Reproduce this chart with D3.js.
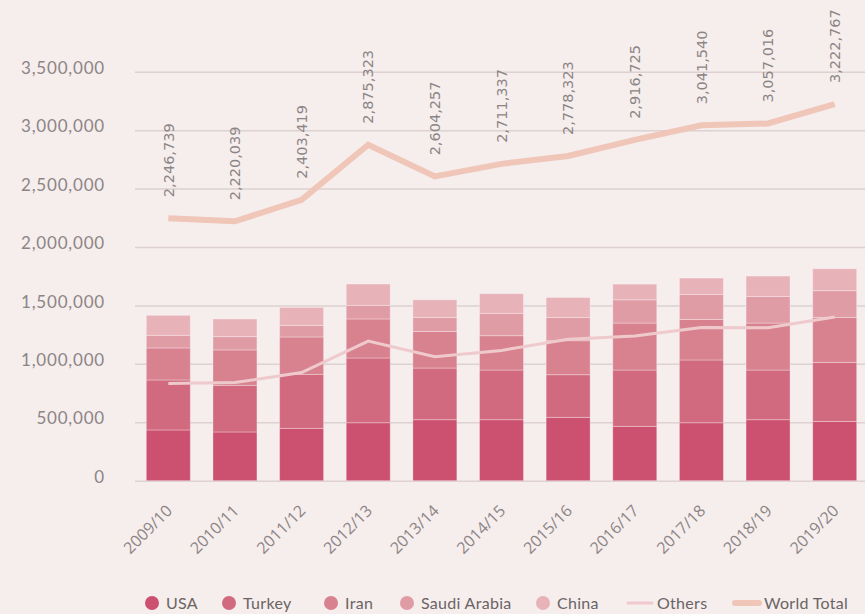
<!DOCTYPE html>
<html>
<head>
<meta charset="utf-8">
<script src="https://cdn.jsdelivr.net/npm/d3@7"></script>
<style>
  html, body { margin: 0; padding: 0; background: #f6eded; }
  svg { display: block; }
</style>
</head>
<body>
<div id="chart"></div>
<script>
(function() {

  'use strict'

  // data
  var years = ['2009/10', '2010/11', '2011/12', '2012/13', '2013/14', '2014/15',
    '2015/16', '2016/17', '2017/18', '2018/19', '2019/20'];
  var usa = [434000, 417000, 448000, 496000, 522000, 522000, 542000, 465000, 496000, 522000, 507000];
  var turkey = [428000, 399000, 462000, 554000, 442000, 425000, 365000, 482000, 537000, 425000, 505000];
  var iran = [274000, 303000, 320000, 334000, 313000, 294000, 291000, 402000, 347000, 402000, 385000];
  var saudiArabia = [108000, 114000, 99000, 116000, 120000, 191000, 199000, 199000, 214000, 228000, 229000];
  var china = [171000, 151000, 154000, 183000, 151000, 169000, 171000, 134000, 140000, 174000, 188000];
  var others = [832000, 840000, 925000, 1195000, 1060000, 1115000, 1210000, 1238000, 1310000, 1308000, 1400000];
  var worldTotal = [2246739, 2220039, 2403419, 2875323, 2604257, 2711337, 2778323, 2916725, 3041540, 3057016, 3222767];
  var yTicks = [0, 500000, 1000000, 1500000, 2000000, 2500000, 3000000, 3500000];

  var barKeys = ['USA', 'Turkey', 'Iran', 'Saudi Arabia', 'China'];
  var barSeries = [usa, turkey, iran, saudiArabia, china];
  var barColors = ['#cc506f', '#d16a7e', '#d8828f', '#e09ca5', '#e8b2b9'];

  var width = 865;
  var height = 614;
  var bg = '#f6eded';
  var grey = '#8c8585';

  var table = years.map(function(y, i) {
    var row = { year: y };
    barKeys.forEach(function(k, j) { row[k] = barSeries[j][i]; });
    return row;
  });

  var x = d3.scaleBand()
    .domain(years)
    .range([135, 868])
    .paddingInner(0.34)
    .paddingOuter(0.17);

  var y = d3.scaleLinear()
    .domain([0, 3500000])
    .range([480.7, 71.7]);

  var svg = d3.select('#chart').append('svg')
    .attr('width', width)
    .attr('height', height);

  svg.append('rect')
    .attr('width', width)
    .attr('height', height)
    .attr('fill', bg);

  // grid + y labels
  var yAxis = d3.axisLeft(y)
    .tickValues(yTicks)
    .tickSize(-(865 - 135))
    .tickPadding(30)
    .tickFormat(d3.format(','));

  var gy = svg.append('g')
    .attr('transform', 'translate(135,0)')
    .call(yAxis);
  gy.select('.domain').remove();
  gy.selectAll('.tick line')
    .attr('stroke', '#ddd1d1')
    .attr('stroke-width', 1.5);
  gy.selectAll('.tick text')
    .attr('fill', grey)
    .attr('font-family', 'Lato, sans-serif')
    .attr('font-size', '17px')
    .attr('letter-spacing', '0.8px')
    .attr('dy', '0.1em');

  // stacked bars
  var stack = d3.stack().keys(barKeys)(table);

  svg.append('g').selectAll('g')
    .data(stack)
    .enter().append('g')
    .attr('fill', function(d, i) { return barColors[i]; })
    .selectAll('rect')
    .data(function(d) { return d; })
    .enter().append('rect')
    .attr('x', function(d) { return x(d.data.year); })
    .attr('width', x.bandwidth())
    .attr('y', function(d) { return y(d[1]); })
    .attr('height', function(d) { return y(d[0]) - y(d[1]); })
    .attr('stroke', 'rgba(255,255,255,0.3)')
    .attr('stroke-width', 1);

  var cx = function(d, i) { return x(years[i]) + x.bandwidth() / 2; };

  // others line
  svg.append('path')
    .datum(others)
    .attr('fill', 'none')
    .attr('stroke', '#efcacd')
    .attr('stroke-width', 3)
    .attr('d', d3.line().x(cx).y(function(d) { return y(d); }));

  // world total line
  svg.append('path')
    .datum(worldTotal)
    .attr('fill', 'none')
    .attr('stroke', '#efc6b8')
    .attr('stroke-width', 6)
    .attr('d', d3.line().x(cx).y(function(d) { return y(d); }));

  svg.append('g').selectAll('text')
    .data(worldTotal)
    .enter().append('text')
    .attr('transform', function(d, i) {
      return 'translate(' + cx(d, i) + ',' + (y(d) - 21) + ') rotate(-90)';
    })
    .attr('dy', '0.36em')
    .attr('fill', grey)
    .attr('font-family', '"DejaVu Sans", sans-serif')
    .attr('font-size', '14.5px')
    .text(d3.format(','));

  // x labels
  var xAxis = d3.axisBottom(x).tickSize(0).tickPadding(0);
  var gx = svg.append('g')
    .attr('transform', 'translate(0,480.7)')
    .call(xAxis);
  gx.select('.domain').remove();
  gx.selectAll('.tick text')
    .attr('fill', grey)
    .attr('font-family', '"Open Sans", sans-serif')
    .attr('font-size', '16px')
    .attr('text-anchor', 'end')
    .attr('dy', null)
    .attr('y', null)
    .attr('transform', 'translate(5,31) rotate(-45)');

  // legend
  var legendY = 603;
  var legendItems = [
    { name: 'USA', type: 'dot', color: barColors[0], x: 152 },
    { name: 'Turkey', type: 'dot', color: barColors[1], x: 229 },
    { name: 'Iran', type: 'dot', color: barColors[2], x: 331 },
    { name: 'Saudi Arabia', type: 'dot', color: barColors[3], x: 407 },
    { name: 'China', type: 'dot', color: barColors[4], x: 543 },
    { name: 'Others', type: 'line', color: '#efcacd', w: 3, x: 628 },
    { name: 'World Total', type: 'line', color: '#efc6b8', w: 6, x: 735 }
  ];

  var legend = svg.append('g').selectAll('g')
    .data(legendItems)
    .enter().append('g')
    .attr('transform', function(d) { return 'translate(' + d.x + ',' + legendY + ')'; });

  legend.filter(function(d) { return d.type === 'dot'; })
    .append('circle')
    .attr('r', 7)
    .attr('fill', function(d) { return d.color; });

  legend.filter(function(d) { return d.type === 'line'; })
    .append('line')
    .attr('x1', 0)
    .attr('x2', 24)
    .attr('stroke', function(d) { return d.color; })
    .attr('stroke-width', function(d) { return d.w; })
    .attr('stroke-linecap', 'round');

  legend.append('text')
    .attr('x', function(d) { return d.type === 'dot' ? 14 : 29; })
    .attr('dy', '0.36em')
    .attr('fill', '#6a6464')
    .attr('font-family', 'Lato, sans-serif')
    .attr('font-size', '16px')
    .attr('letter-spacing', '0.3px')
    .text(function(d) { return d.name; });

})();
</script>
</body>
</html>
